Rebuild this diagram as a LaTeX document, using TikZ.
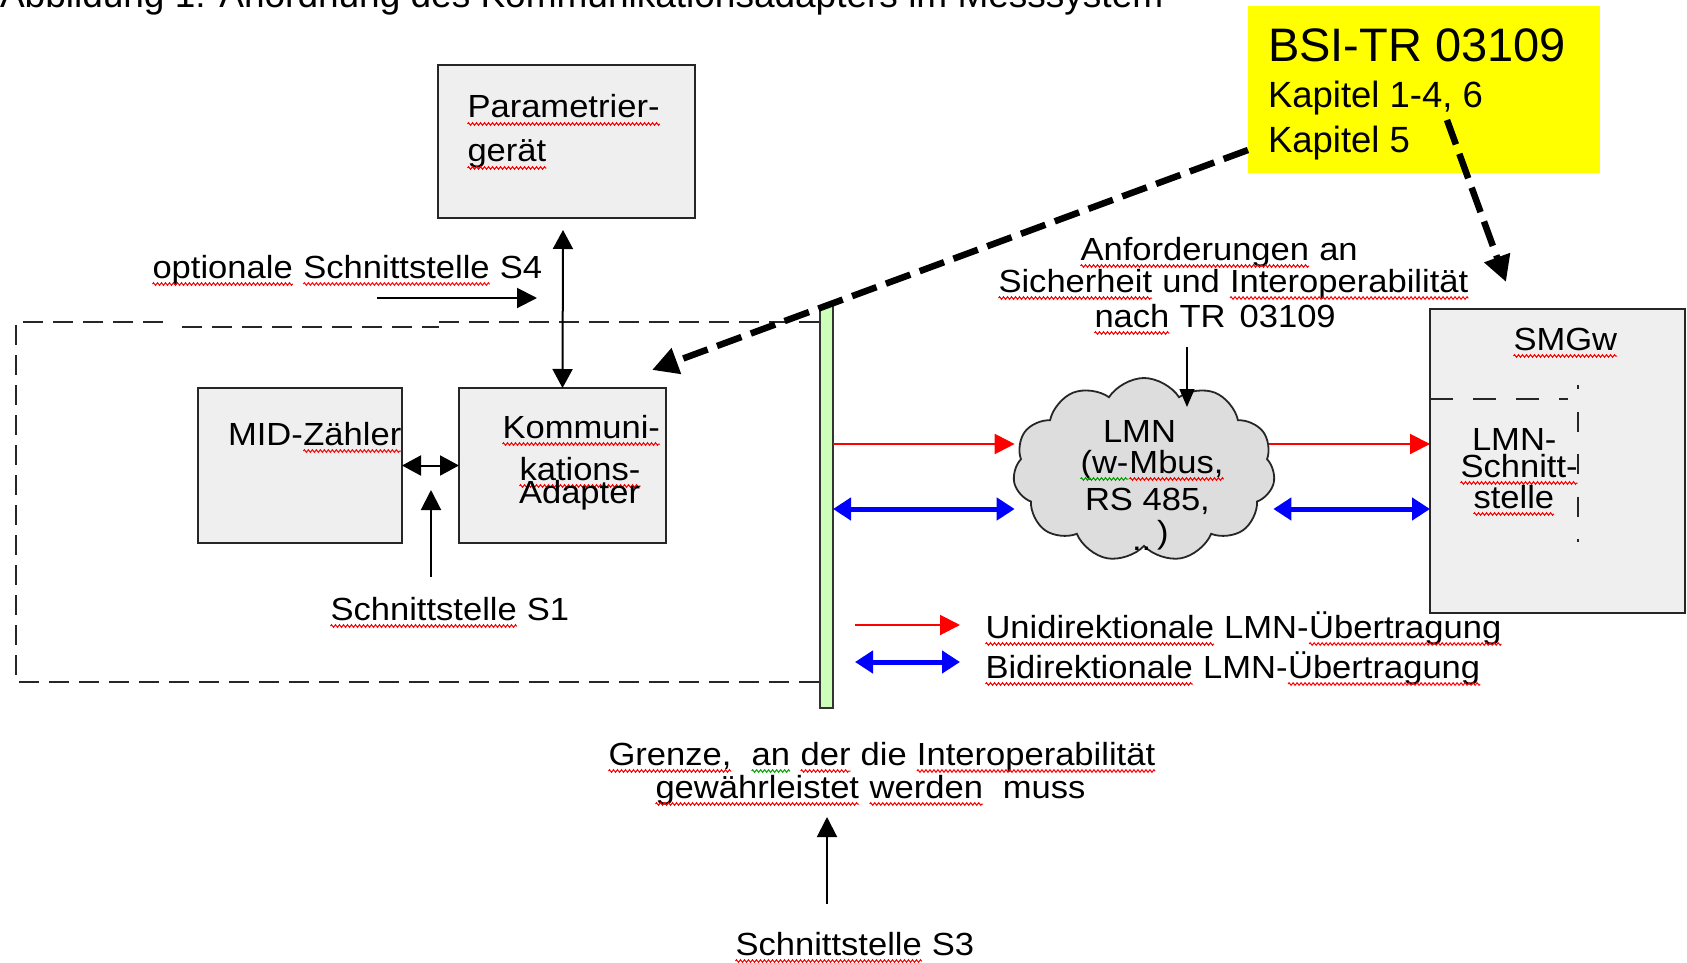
\documentclass[tikz,border=0pt]{standalone}
\usepackage{fontspec}
\setmainfont{Liberation Sans}
\newfontfamily\wf[FakeStretch=1.08]{Liberation Sans}
\usetikzlibrary{arrows.meta,shapes.symbols,calc,backgrounds,decorations.pathmorphing}
\definecolor{boxfill}{HTML}{EFEFEF}
\definecolor{cloudfill}{HTML}{DDDDDD}
\definecolor{barfill}{HTML}{CCFFB8}
\definecolor{sqred}{HTML}{FF0000}
\definecolor{sqgreen}{HTML}{00A000}
\definecolor{ylw}{HTML}{FFFF00}
\newcommand\squig[2]{\tikz[baseline=(sqw.base)]{\node[inner sep=0pt,outer sep=0pt] (sqw) {#2};\draw[#1,line width=1pt,decorate,decoration={zigzag,amplitude=1.3pt,segment length=4pt}] ([yshift=-6pt]sqw.base west) -- ([yshift=-6pt]sqw.base east);}}
\newcommand\rsq[1]{\squig{sqred}{#1}}
\newcommand\gsq[1]{\squig{sqgreen}{#1}}
\begin{document}
\begin{tikzpicture}[x=1pt,y=-1pt,
  box/.style={draw=black!85,line width=2.2pt,fill=boxfill,inner sep=0,outer sep=0},
  txt/.style={inner sep=0,outer sep=0,anchor=base west,font=\wf\fontsize{32}{32}\selectfont},
  ytxt/.style={inner sep=0,outer sep=0,anchor=base west},
  blk/.style={line width=2pt,-{Triangle[length=20pt,width=20pt]}},
  dblk/.style={line width=2pt,{Triangle[length=19pt,width=20pt]}-{Triangle[length=19pt,width=20pt]}},
  redar/.style={draw=red,line width=2pt,-{Triangle[length=20pt,width=20pt]}},
  bluear/.style={draw=blue,line width=5pt,{Triangle[length=18pt,width=22pt]}-{Triangle[length=18pt,width=22pt]}},
  refar/.style={line width=6.5pt,dash pattern=on 26pt off 10pt,-{Triangle[length=26pt,width=26pt]}},
  frame/.style={draw=black!85,line width=2.5pt,dash pattern=on 20pt off 10pt},
]
\useasboundingbox (0,0) rectangle (1687,963);

% caption (cut at top)
\node[ytxt,font=\fontsize{37}{37}\selectfont] (cap) at (0,8) {Abbildung 1: Anordnung des Kommunikationsadapters im Messsystem};

% yellow reference box
\node[fill=ylw,minimum width=352pt,minimum height=167pt,inner sep=0,outer sep=0] (tr) at (1424,89.5) {};
\node[ytxt,font=\fontsize{47}{47}\selectfont] (tr1) at (1268,62) {BSI-TR 03109};
\node[ytxt,font=\fontsize{36.5}{36.5}\selectfont] (tr2) at (1268,108) {Kapitel 1-4, 6};
\node[ytxt,font=\fontsize{36.5}{36.5}\selectfont] (tr3) at (1268,153) {Kapitel 5};

% dashed frame
\draw[frame] (163,322) -- (16,322) -- (16,682) -- (820,682);
\draw[frame] (182,327) -- (439,327);
\draw[frame] (439,322) -- (820,322);

% boundary bar
\node[draw=black!80,line width=1.8pt,fill=barfill,minimum width=13pt,minimum height=402pt,inner sep=0,outer sep=0] (bar) at (826.5,507) {};

% boxes
\node[box,minimum width=257pt,minimum height=153pt] (param) at (566.5,141.5) {};
\node[txt] (p1) at (467,118) {\rsq{Parametrier-}};
\node[txt] (p2) at (467,162) {\rsq{gerät}};

\node[box,minimum width=207pt,minimum height=155pt] (kom) at (562.5,465.5) {};
\node[txt] (k1) at (502,438) {\rsq{Kommuni-}};
\node[txt] (k2) at (519,480) {\rsq{kations-}};
\node[txt] (k3) at (519,503) {Adapter};

\node[box,minimum width=204pt,minimum height=155pt] (mid) at (300,465.5) {};
\node[txt] (m1) at (228,445) {MID-\rsq{Zähler}};

\node[box,minimum width=255pt,minimum height=304pt] (smgw) at (1557.5,461) {};
\draw[line width=2.5pt,black!85,dash pattern=on 23pt off 20pt] (smgw.west |- 0,399) -- (1568,399);
\draw[line width=2.5pt,black!85,dash pattern=on 20pt off 22.5pt,dash phase=16pt] (1578,385) -- (1578,542);
\node[txt] (sm1) at (1513,350) {\rsq{SMGw}};
\node[txt] (sm2) at (1472,450) {LMN-};
\node[txt] (sm3) at (1460,477) {\rsq{Schnitt-}};
\node[txt] (sm4) at (1473,508) {\rsq{stelle}};

% cloud
\node[cloud,cloud puffs=11,cloud puff arc=115,cloud ignores aspect,draw=black!85,line width=1.8pt,fill=cloudfill,minimum width=262pt,minimum height=184pt,inner sep=0,outer sep=0] (lmn) at (1144,470) {};
\node[txt] (c1) at (1103,442) {LMN};
\node[txt] (c2) at (1080,473) {\gsq{(w-}\rsq{Mbus,}};
\node[txt] (c3) at (1085,510) {RS 485,};
\node[txt] (c4) at (1157,543) {)};
\node[txt] (c5) at (1132,550) {..};

% texts
\node[txt] (s4) at (152,278) {\rsq{optionale} \rsq{Schnittstelle} S4};
\node[txt] (s1) at (330,620) {\rsq{Schnittstelle} S1};
\node[txt] (an1) at (1080,260) {\rsq{Anforderungen} an};
\node[txt] (an2) at (998,292) {\rsq{Sicherheit} und \rsq{Interoperabilität}};
\node[txt] (an3) at (1094,327) {\rsq{nach} TR\hspace{14pt}03109};
\node[txt] (u1) at (985,638) {\rsq{Unidirektionale} LMN-\rsq{Übertragung}};
\node[txt] (u2) at (985,678) {\rsq{Bidirektionale} LMN-\rsq{Übertragung}};
\node[txt] (g1) at (608,765) {\rsq{Grenze,}~ \gsq{an} \rsq{der} die \rsq{Interoperabilität}};
\node[txt] (g2) at (655,798) {\rsq{gewährleistet} \rsq{werden}~ muss};
\node[txt] (s3) at (735,955) {\rsq{Schnittstelle} S3};

% coordinates for free ends
\coordinate (yr) at (0,444);
\coordinate (yb) at (0,509);
\coordinate (pTip) at (563,230);
\coordinate (s4a) at (377,298);
\coordinate (s4b) at (537,298);
\coordinate (s1a) at (431,577);
\coordinate (s1b) at (431,490);
\coordinate (s3a) at (827,904);
\coordinate (s3b) at (827,817);
\coordinate (anA) at (1187,347);
\coordinate (anB) at (1187,407);

% connectors
\draw[dblk] (pTip) -- (kom.north);
\draw[dblk] (mid.east) -- (kom.west);
\draw[blk] (s4a) -- (s4b);
\draw[blk] (s1a) -- (s1b);
\draw[blk] (s3a) -- (s3b);
\draw[line width=1.6pt,-{Triangle[length=18pt,width=15pt]}] (anA) -- (anB);

\begin{pgfonlayer}{background}
\draw[redar] (lmn.center |- yr) -- (smgw.west |- yr);
\end{pgfonlayer}
\draw[redar] (bar.east |- yr) -- (lmn.west |- yr);
\draw[bluear] (bar.east |- yb) -- (lmn.west |- yb);
\draw[bluear] (lmn.east |- yb) -- (smgw.west |- yb);

% legend
\coordinate (la) at (855,625);
\coordinate (lb) at (960,625);
\coordinate (lc) at (855,662);
\coordinate (ld) at (960,662);
\draw[redar] (la) -- (lb);
\draw[bluear] (lc) -- (ld);

% reference arrows
\draw[refar] ($(tr.south west)+(0,-23)$) -- ($(kom.north east)+(-14,-18)$);
\draw[refar] ($(tr.south west)+(199,-53)$) -- ($(smgw.north west)+(76,-27)$);
\end{tikzpicture}
\end{document}
